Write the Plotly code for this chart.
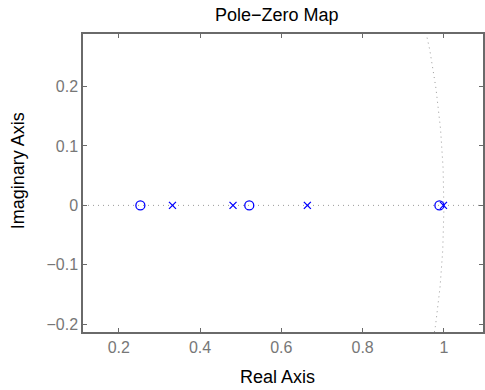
import numpy as np
import plotly.graph_objects as go

# Data
zeros_real = [0.253, 0.521, 0.989]
zeros_imag = [0.0, 0.0, 0.0]
poles_real = [0.332, 0.481, 0.664, 0.999]
poles_imag = [0.0, 0.0, 0.0, 0.0]

x_tickvals = [0.2, 0.4, 0.6, 0.8, 1.0]
x_ticktext = ["0.2", "0.4", "0.6", "0.8", "1"]
y_tickvals = [-0.2, -0.1, 0.0, 0.1, 0.2]
y_ticktext = ["\u22120.2", "\u22120.1", "0", "0.1", "0.2"]

x_range = [0.1118, 1.0963]
y_range = [-0.2129, 0.2882]

W, H = 485, 390
ML, MR, MT, MB = 83, 0, 34, 58

fig = go.Figure()

# unit circle grid (reference curve)
theta = np.linspace(-np.pi / 2, np.pi / 2, 721)
fig.add_trace(go.Scatter(x=np.cos(theta), y=np.sin(theta), mode="lines",
                         line=dict(color="#9a9a9a", width=1, dash="1px,4px"),
                         hoverinfo="skip", showlegend=False))
# real axis dotted line
fig.add_trace(go.Scatter(x=[x_range[0], x_range[1]], y=[0, 0], mode="lines",
                         line=dict(color="#9a9a9a", width=1, dash="1px,4px"),
                         hoverinfo="skip", showlegend=False))

fig.add_trace(go.Scatter(x=zeros_real, y=zeros_imag, mode="markers",
                         marker=dict(symbol="circle-open", size=9, color="#0000ff",
                                     line=dict(width=1.3, color="#0000ff")),
                         showlegend=False))
fig.add_trace(go.Scatter(x=poles_real, y=poles_imag, mode="markers",
                         marker=dict(symbol="x-thin-open", size=7, color="#0000ff",
                                     line=dict(width=1.3, color="#0000ff")),
                         showlegend=False))

axis_common = dict(showline=True, linecolor="#6a6a6a", linewidth=1.5, mirror="ticks",
                   ticks="inside", ticklen=4, tickcolor="#6a6a6a", tickwidth=1,
                   showgrid=False, zeroline=False,
                   tickfont=dict(family="Liberation Sans, Arial, sans-serif", size=16, color="#777777"))

fig.update_xaxes(range=x_range, tickmode="array", tickvals=x_tickvals, ticktext=x_ticktext, **axis_common)
fig.update_yaxes(range=y_range, tickmode="array", tickvals=y_tickvals, ticktext=y_ticktext, **axis_common)

pw = W - ML - MR
ph = H - MT - MB
font_t = dict(family="Liberation Sans, Arial, sans-serif", size=18, color="#000000")

fig.update_layout(
    width=W, height=H,
    margin=dict(l=ML, r=MR, t=MT, b=MB),
    plot_bgcolor="white", paper_bgcolor="white",
    annotations=[
        dict(text="Pole\u2212Zero Map", xref="paper", yref="paper",
             x=(278 - ML) / pw, y=1 + (MT - 15) / ph,
             xanchor="center", yanchor="middle", showarrow=False, font=font_t),
        dict(text="Real Axis", xref="paper", yref="paper",
             x=(278 - ML) / pw, y=-(377 - (H - MB)) / ph,
             xanchor="center", yanchor="middle", showarrow=False, font=font_t),
        dict(text="Imaginary Axis", xref="paper", yref="paper",
             x=-(ML - 18) / pw, y=1 - (171 - MT) / ph, textangle=-90,
             xanchor="center", yanchor="middle", showarrow=False, font=font_t),
    ],
)

fig.write_html("out.html", config={"displayModeBar": False},
               post_script="document.body.style.margin='0px';document.body.style.overflow='hidden';")
